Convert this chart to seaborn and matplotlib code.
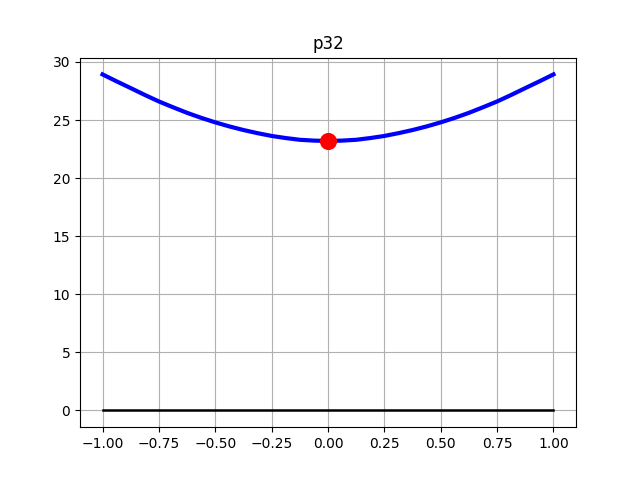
import matplotlib
matplotlib.use("Agg")
import matplotlib.pyplot as plt
import seaborn as sns

# curve values (left half, the curve is symmetric)
x_left = [-1.0, -0.9375, -0.875, -0.8125, -0.75, -0.6875, -0.625, -0.5625,
          -0.5, -0.4375, -0.375, -0.3125, -0.25, -0.1875, -0.125, -0.0625]
y_left = [28.93, 28.33, 27.75, 27.16, 26.6, 26.1, 25.62, 25.19,
          24.8, 24.45, 24.14, 23.87, 23.63, 23.45, 23.3, 23.23]

x_vals = x_left + [0.0] + [-v for v in reversed(x_left)]
y_vals = y_left + [23.2] + list(reversed(y_left))

# minimum point
min_x = [0.0]
min_y = [23.2]

# zero line
zero_x = [-1.0, 1.0]
zero_y = [0.0, 0.0]

fig, ax = plt.subplots(figsize=(6.4, 4.8), dpi=100)

sns.lineplot(x=x_vals, y=y_vals, color="blue", linewidth=3, ax=ax)
sns.lineplot(x=zero_x, y=zero_y, color="black", linewidth=1.8, ax=ax)
sns.scatterplot(x=min_x, y=min_y, color="red", s=130, edgecolor="red", zorder=5, ax=ax)

ax.set_title("p32")
ax.grid(True)

fig.savefig("out.png", dpi=100)
